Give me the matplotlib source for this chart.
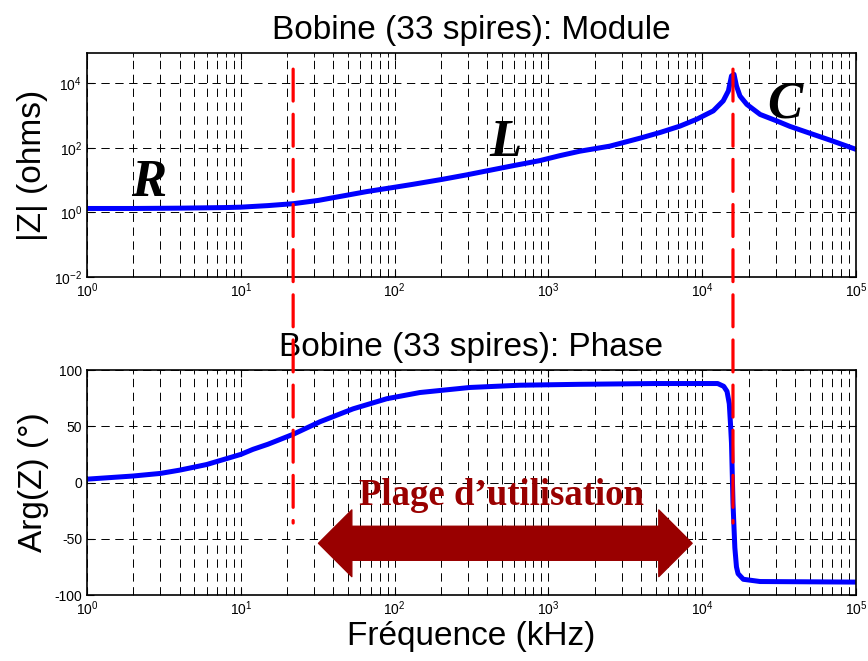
import numpy as np
import matplotlib
matplotlib.use("Agg")
import matplotlib.pyplot as plt
from matplotlib.patches import ConnectionPatch
from matplotlib.ticker import LogLocator, NullFormatter

plt.rcParams['font.family'] = ['Liberation Sans', 'DejaVu Sans']
plt.rcParams['mathtext.default'] = 'regular'
plt.rcParams['axes.unicode_minus'] = False
plt.rcParams['lines.scale_dashes'] = False

# module |Z| (ohms) vs frequency (kHz)
freq_mod = [1, 2, 4, 8, 10, 15, 22, 32, 40, 66, 98, 132, 204, 295, 437, 617, 881,
            1190, 1600, 2510, 3980, 5370, 7180, 9200, 11800, 13700, 14800, 15500,
            16100, 16700, 17600, 19500, 23800, 30500, 37200, 47900, 69200, 100000]
z_mod = [1.32, 1.32, 1.35, 1.41, 1.45, 1.62, 1.86, 2.35, 2.85, 4.4, 5.9, 7.4, 10.5,
         14.5, 21, 29, 40, 57, 78, 112, 200, 300, 468, 759, 1380, 2820, 5750,
         16600, 18600, 8130, 3980, 2190, 1070, 676, 457, 302, 166, 89]

# phase (deg) vs frequency (kHz)
freq_ph = [1, 2, 3, 4, 6, 10, 12, 15, 22, 32.7, 53.7, 89, 146, 309, 653, 1585,
           5000, 12600, 13800, 14500, 15000, 15300, 15500, 15700, 15850, 16300,
           16700, 17100, 18500, 23800, 100000]
phase = [3, 5.8, 8.1, 11, 16, 25, 29.5, 34, 43, 54, 65.5, 74.5, 80, 84.5, 86.5,
         87.3, 88, 88, 85.5, 81, 70, 50, 35, 5, -18, -58, -75, -81, -86, -88, -88.5]

# boundaries R/L and L/C (kHz)
f_limits = [21.9, 15850]
red_top = 2.7e4     # ohms, in the module plot
red_bottom = -36    # deg, in the phase plot

# usable range arrow
arrow_f = [32, 8600]
arrow_phase = -54

fig = plt.figure(figsize=(8.68, 6.61), dpi=100)
ax1 = fig.add_axes([0.1002, 0.5809, 0.886, 0.3389])
ax2 = fig.add_axes([0.1002, 0.0998, 0.886, 0.3404])

for ax in (ax1, ax2):
    ax.set_xscale('log')
    ax.set_xlim(1, 1e5)
    ax.xaxis.set_major_locator(LogLocator(base=10, numticks=10))
    ax.xaxis.set_minor_locator(LogLocator(base=10, subs=np.arange(2, 10), numticks=20))
    ax.xaxis.set_minor_formatter(NullFormatter())
    ax.grid(True, which='major', axis='both', color='black', lw=0.7, dashes=(6, 4))
    ax.grid(True, which='minor', axis='x', color='black', lw=0.7, dashes=(6, 4))
    ax.tick_params(which='both', direction='in', top=True, right=True, labelsize=10)
    ax.tick_params(which='major', length=5)
    ax.tick_params(which='minor', length=3)
    for s in ax.spines.values():
        s.set_linewidth(1.2)
    ax.set_axisbelow(True)

ax1.set_yscale('log')
ax1.set_ylim(1e-2, 10**4.93)
ax1.set_yticks([1e-2, 1, 1e2, 1e4])
ax1.yaxis.set_minor_formatter(NullFormatter())
ax1.tick_params(axis='y', which='minor', left=False, right=False)
ax1.plot(freq_mod, z_mod, color='#0000ff', lw=3.6, solid_capstyle='round',
         solid_joinstyle='round')
ax1.set_title('Bobine (33 spires): Module', fontsize=24, pad=10)
ax1.set_ylabel('|Z| (ohms)', fontsize=24, labelpad=4)

ax2.set_ylim(-100, 100)
ax2.set_yticks([-100, -50, 0, 50, 100])
ax2.plot(freq_ph, phase, color='#0000ff', lw=3.6, solid_capstyle='round',
         solid_joinstyle='round')
ax2.set_title('Bobine (33 spires): Phase', fontsize=24, pad=10)
ax2.set_ylabel('Arg(Z) (°)', fontsize=24, labelpad=4)
ax2.set_xlabel('Fréquence (kHz)', fontsize=24, labelpad=2)

# region letters
lt = dict(family=['Liberation Serif', 'DejaVu Serif'], fontweight='bold',
          fontstyle='italic', fontsize=38, ha='center', va='baseline')
ax1.text(2.5, 3.2, 'R', **lt)
ax1.text(523, 54, 'L', **lt)
ax1.text(34600, 870, 'C', **lt)

# red dashed boundary lines spanning both plots
for f in f_limits:
    cp = ConnectionPatch(xyA=(f, red_top), coordsA=ax1.transData,
                         xyB=(f, red_bottom), coordsB=ax2.transData,
                         color='#ff0000', lw=2.3, linestyle=(0, (23, 9.5)),
                         zorder=5)
    fig.add_artist(cp)

# double arrow "Plage d'utilisation"
f_mid = np.sqrt(arrow_f[0] * arrow_f[1])
style = 'simple,head_length=24,head_width=48,tail_width=24.5'
for f_end in arrow_f:
    ax2.annotate('', xy=(f_end, arrow_phase), xytext=(f_mid, arrow_phase),
                 arrowprops=dict(arrowstyle=style, mutation_scale=1,
                                 fc='#990000', ec='#990000', lw=1,
                                 shrinkA=0, shrinkB=0))
ax2.text(493, -20, 'Plage d\u2019utilisation', color='#990000', fontsize=26.5,
         fontweight='bold', family=['Liberation Serif', 'DejaVu Serif'],
         ha='center', va='baseline')

fig.savefig('out.png', dpi=100)
